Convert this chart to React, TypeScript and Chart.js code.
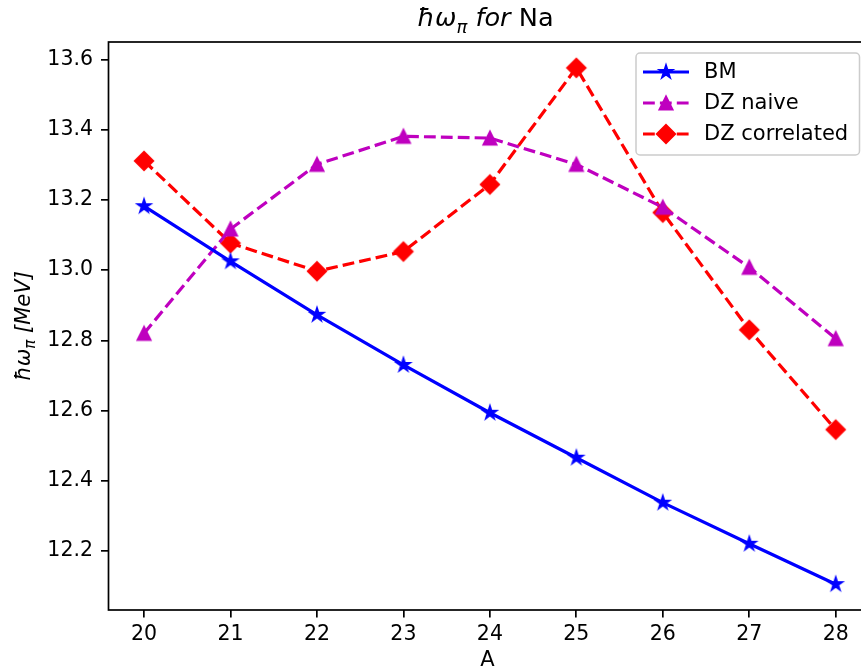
import React, { useEffect, useRef } from "react";
import { Chart, registerables } from "chart.js";

Chart.register(...registerables);

// ---- data ----
const massNumbers = [20, 21, 22, 23, 24, 25, 26, 27, 28];
const bmValues = [13.182, 13.025, 12.873, 12.73, 12.594, 12.466, 12.338, 12.221, 12.106];
const dzNaiveValues = [12.82, 13.117, 13.301, 13.381, 13.376, 13.301, 13.179, 13.008, 12.805];
const dzCorrelatedValues = [13.311, 13.077, 12.997, 13.053, 13.244, 13.576, 13.164, 12.83, 12.546];
const xTickValues = [20, 21, 22, 23, 24, 25, 26, 27, 28];
const yTickValues = [12.2, 12.4, 12.6, 12.8, 13.0, 13.2, 13.4, 13.6];
const seriesLabels = ["BM", "DZ naive", "DZ correlated"];

const FONT = '"DejaVu Sans"';
const BLUE = "#0000ff";
const MAGENTA = "#bf00bf";
const RED = "#ff0000";
const LW = 3.2;
const DASH = [11.8, 5.1];

function makeMarker(kind: string, color: string): HTMLCanvasElement {
  const c = document.createElement("canvas");
  c.width = 26;
  c.height = 26;
  const g = c.getContext("2d")!;
  g.translate(13, 13);
  g.fillStyle = color;
  g.strokeStyle = color;
  g.lineWidth = 2.1;
  g.lineJoin = "miter";
  g.beginPath();
  if (kind === "star") {
    const R = 6.4, r = 6.4 * 0.381966;
    for (let i = 0; i < 10; i++) {
      const rad = i % 2 === 0 ? R : r;
      const ang = -Math.PI / 2 + (i * Math.PI) / 5;
      const px = rad * Math.cos(ang), py = rad * Math.sin(ang);
      if (i === 0) g.moveTo(px, py); else g.lineTo(px, py);
    }
  } else if (kind === "tri") {
    g.moveTo(0, -6.4);
    g.lineTo(-6.4, 6.4);
    g.lineTo(6.4, 6.4);
  } else {
    const d = 9.05;
    g.moveTo(0, -d);
    g.lineTo(d, 0);
    g.lineTo(0, d);
    g.lineTo(-d, 0);
  }
  g.closePath();
  g.fill();
  g.stroke();
  return c;
}

type Part = { t: string; italic?: boolean; sub?: boolean };

function drawRich(ctx: CanvasRenderingContext2D, parts: Part[], cx: number, cy: number, size: number, rotate = false) {
  const fontFor = (p: Part) => `${p.italic ? "italic " : ""}${p.sub ? Math.round(size * 0.7) : size}px ${FONT}`;
  const widths = parts.map((p) => {
    ctx.font = fontFor(p);
    return ctx.measureText(p.t).width;
  });
  const total = widths.reduce((a, b) => a + b, 0);
  ctx.save();
  ctx.translate(cx, cy);
  if (rotate) ctx.rotate(-Math.PI / 2);
  ctx.textAlign = "left";
  ctx.textBaseline = "alphabetic";
  ctx.fillStyle = "#000";
  let x = -total / 2;
  parts.forEach((p, i) => {
    ctx.font = fontFor(p);
    ctx.fillText(p.t, x, size * 0.36 + (p.sub ? size * 0.25 : 0));
    x += widths[i];
  });
  ctx.restore();
}

export default function App() {
  const ref = useRef<HTMLCanvasElement | null>(null);

  useEffect(() => {
    const canvas = ref.current!;
    const starImg = makeMarker("star", BLUE);
    const triImg = makeMarker("tri", MAGENTA);
    const diaImg = makeMarker("dia", RED);

    const decor = {
      id: "decor",
      afterDraw(chart: any) {
        const ctx: CanvasRenderingContext2D = chart.ctx;
        const a = chart.chartArea;
        ctx.save();
        // frame
        ctx.strokeStyle = "#000";
        ctx.lineWidth = 1.7;
        ctx.strokeRect(a.left, a.top, a.right - a.left, a.bottom - a.top);
        const cx = (a.left + a.right) / 2;
        // title
        drawRich(
          ctx,
          [
            { t: "ħω", italic: true },
            { t: "π", italic: true, sub: true },
            { t: " for", italic: true },
            { t: " Na" },
          ],
          cx - 4,
          17,
          25.6
        );
        // y label
        drawRich(
          ctx,
          [
            { t: "ħω", italic: true },
            { t: "π", italic: true, sub: true },
            { t: " [MeV]", italic: true },
          ],
          22,
          (a.top + a.bottom) / 2,
          21,
          true
        );
        // x label
        ctx.font = `21px ${FONT}`;
        ctx.fillStyle = "#000";
        ctx.textAlign = "center";
        ctx.textBaseline = "middle";
        ctx.fillText("A", cx - 2, 661);

        // legend
        const lx = 636, ly = 53, lw = 223.5, lh = 102;
        ctx.beginPath();
        ctx.roundRect(lx, ly, lw, lh, 4);
        ctx.fillStyle = "rgba(255,255,255,0.8)";
        ctx.fill();
        ctx.strokeStyle = "#cccccc";
        ctx.lineWidth = 1.5;
        ctx.stroke();
        const rows = [
          { label: seriesLabels[0], color: BLUE, dash: [] as number[], img: starImg },
          { label: seriesLabels[1], color: MAGENTA, dash: DASH, img: triImg },
          { label: seriesLabels[2], color: RED, dash: DASH, img: diaImg },
        ];
        rows.forEach((r, i) => {
          const y = 72 + i * 31;
          ctx.beginPath();
          ctx.setLineDash(r.dash);
          ctx.strokeStyle = r.color;
          ctx.lineWidth = LW;
          ctx.moveTo(643, y);
          ctx.lineTo(689, y);
          ctx.stroke();
          ctx.setLineDash([]);
          ctx.drawImage(r.img, 666 - 13, y - 13);
          ctx.font = `21px ${FONT}`;
          ctx.fillStyle = "#000";
          ctx.textAlign = "left";
          ctx.textBaseline = "middle";
          ctx.fillText(r.label, 704, y + 1);
        });
        ctx.restore();
      },
    };

    const mk = (vals: number[]) => massNumbers.map((x, i) => ({ x, y: vals[i] }));

    const chart = new Chart(canvas, {
      type: "line",
      data: {
        datasets: [
          {
            label: seriesLabels[0],
            data: mk(bmValues),
            borderColor: BLUE,
            backgroundColor: BLUE,
            borderWidth: LW,
            pointStyle: starImg as any,
            pointRadius: 7,
            tension: 0,
          },
          {
            label: seriesLabels[1],
            data: mk(dzNaiveValues),
            borderColor: MAGENTA,
            backgroundColor: MAGENTA,
            borderWidth: LW,
            borderDash: DASH,
            pointStyle: triImg as any,
            pointRadius: 7,
            tension: 0,
          },
          {
            label: seriesLabels[2],
            data: mk(dzCorrelatedValues),
            borderColor: RED,
            backgroundColor: RED,
            borderWidth: LW,
            borderDash: DASH,
            pointStyle: diaImg as any,
            pointRadius: 9,
            tension: 0,
          },
        ],
      },
      options: {
        animation: false,
        responsive: false,
        devicePixelRatio: 1,
        events: [],
        layout: { padding: { left: 0, top: 42, right: 29.7, bottom: 0 } },
        plugins: { legend: { display: false }, title: { display: false }, tooltip: { enabled: false } },
        scales: {
          x: {
            type: "linear",
            min: 19.589,
            max: 28.4,
            border: { display: false },
            grid: { display: true, drawOnChartArea: false, drawTicks: true, tickLength: 7.5, color: "#000", lineWidth: 1.7 },
            ticks: { color: "#000", font: { family: FONT, size: 20.5 }, padding: 5, maxRotation: 0, callback: (v: any) => String(v) },
            afterBuildTicks: (s: any) => {
              s.ticks = xTickValues.map((v) => ({ value: v }));
            },
            afterFit: (s: any) => {
              s.height = 62;
            },
          },
          y: {
            type: "linear",
            min: 12.0325,
            max: 13.6495,
            border: { display: false },
            grid: { display: true, drawOnChartArea: false, drawTicks: true, tickLength: 7.5, color: "#000", lineWidth: 1.7 },
            ticks: { color: "#000", font: { family: FONT, size: 20.5 }, padding: 8, callback: (v: any) => Number(v).toFixed(1) },
            afterBuildTicks: (s: any) => {
              s.ticks = yTickValues.map((v) => ({ value: v }));
            },
            afterFit: (s: any) => {
              s.width = 108.5;
            },
          },
        },
      },
      plugins: [decor],
    });
    return () => chart.destroy();
  }, []);

  return (
    <div style={{ position: "fixed", left: 0, top: 0, width: 861, height: 672, overflow: "hidden", background: "#fff" }}>
      <canvas ref={ref} width={900} height={672} style={{ display: "block", width: 900, height: 672 }} />
    </div>
  );
}
